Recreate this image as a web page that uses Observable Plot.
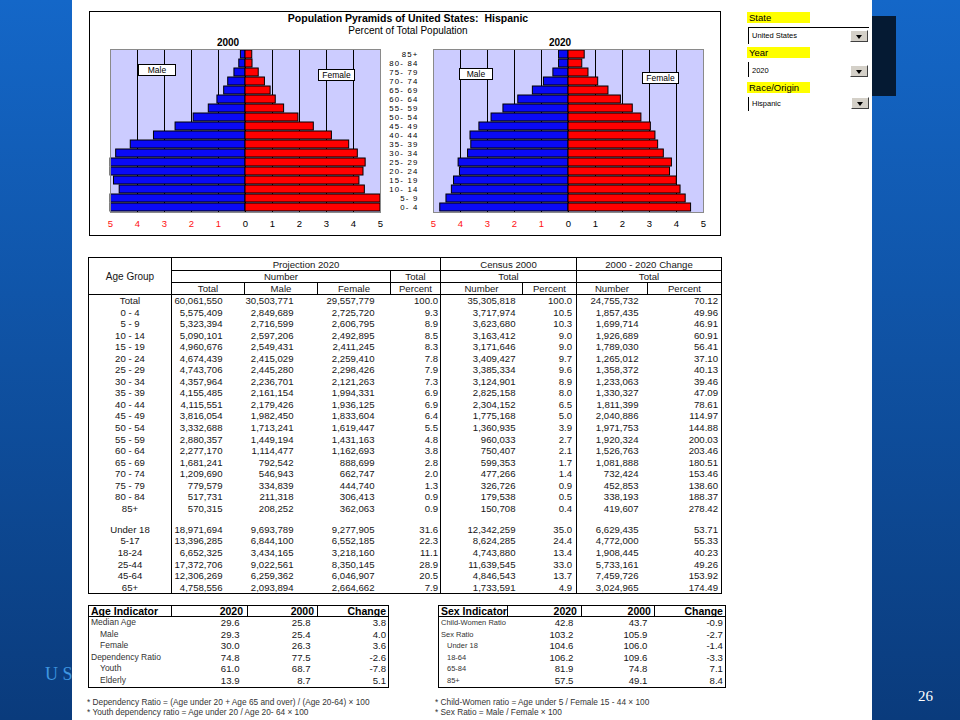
<!DOCTYPE html>
<html><head><meta charset="utf-8">
<script src="https://cdn.jsdelivr.net/npm/d3@7"></script>
<script src="https://cdn.jsdelivr.net/npm/@observablehq/plot@0.6"></script>
<style>
body{margin:0;width:960px;height:720px;overflow:hidden;font-family:"Liberation Sans",Arial,sans-serif;}
#slide{position:relative;width:960px;height:720px;background:linear-gradient(#1467c8,#0a3b7c);overflow:hidden;}
.abs{position:absolute;}
#page{left:72px;top:0;width:800px;height:720px;background:#fff;}
#chartbox{left:89px;top:11px;width:632px;height:225px;border:1px solid #000;box-sizing:border-box;}
.ttl{font-weight:bold;font-size:10.5px;color:#000;white-space:nowrap;transform:translate(-50%,-50%);}
.sub{font-size:10px;color:#000;white-space:nowrap;transform:translate(-50%,-50%);}
.lbl{background:#fff;border:1px solid #000;font-size:8.5px;box-sizing:border-box;text-align:center;color:#000;}
table{border-collapse:collapse;table-layout:fixed;color:#161616;}
#main{left:88px;top:257px;font-size:9.6px;}
#main td{padding:0;white-space:nowrap;overflow:hidden;vertical-align:middle;}
#main tr.h td{border:1px solid #000;text-align:center;height:11px;line-height:11px;}
#main tr.b td{height:11.55px;line-height:11.55px;text-align:right;}
#main tr.blank td{height:9.5px;}
#main td.c0{border-left:1px solid #000;border-right:1px solid #000;text-align:center !important;}
#main td.c4,#main td.c6,#main td.c8{border-right:1px solid #000;}
#main tr.last td{border-bottom:1px solid #000;}
.ind{font-size:9.6px;}
.ind td{padding:0;white-space:nowrap;overflow:hidden;vertical-align:middle;}
.ind tr.h td{border:1px solid #000;font-weight:bold;font-size:10.5px;height:10px;line-height:10px;text-align:right;color:#000;}
.ind tr.h td:first-child{text-align:left;padding-left:2px;}
.ind tr.b td{height:11.6px;line-height:11.6px;text-align:right;}
.ind tr.b td:first-child{text-align:left;border-left:1px solid #000;color:#333;}
.ind tr.b td:last-child{border-right:1px solid #000;}
.ind tr.last td{border-bottom:1px solid #000;}
.note{font-size:8.3px;color:#333;white-space:nowrap;}
.ylab{background:#ffff00;font-size:9.5px;line-height:11px;height:11px;width:63px;padding-left:2px;box-sizing:border-box;color:#000;}
.fld{font-size:7.5px;color:#000;white-space:nowrap;}
.btn{width:18px;height:12px;background:#d4d0c8;box-sizing:border-box;border:1px solid;border-color:#fff #404040 #404040 #fff;}
.btn:after{content:"";position:absolute;left:5px;top:4px;border-left:3.5px solid transparent;border-right:3.5px solid transparent;border-top:4px solid #000;}
</style></head>
<body>
<div id="slide">
  <div class="abs" style="left:0;top:660px;width:72px;height:30px;overflow:hidden;">
    <div class="abs" style="left:45px;top:4px;font-family:'Liberation Serif',serif;font-size:18px;color:#3f96e0;white-space:nowrap;">U S</div>
  </div>
  <div id="page" class="abs"></div>
  <div class="abs" style="left:872px;top:16px;width:24px;height:80px;background:#051a33;"></div>
  <div class="abs" style="left:918px;top:688px;font-family:'Liberation Serif',serif;font-size:15px;color:#fff;">26</div>
  <div id="chartbox" class="abs"></div>
  <div class="abs ttl" style="left:408px;top:18px;">Population Pyramids of United States:&nbsp; Hispanic</div>
  <div class="abs sub" style="left:408px;top:30px;">Percent of Total Population</div>
  <div class="abs ttl" style="left:228px;top:42px;font-size:10px;">2000</div>
  <div class="abs ttl" style="left:560px;top:42px;font-size:10px;">2020</div>
  <div id="p2000" class="abs" style="left:95px;top:40px;"></div>
  <div id="p2020" class="abs" style="left:383px;top:40px;"></div>
  <div class="abs lbl" style="left:138px;top:64px;width:38px;height:12px;line-height:10px;">Male</div>
  <div class="abs lbl" style="left:318px;top:69px;width:37px;height:12px;line-height:10px;">Female</div>
  <div class="abs lbl" style="left:459px;top:68px;width:34px;height:12px;line-height:10px;">Male</div>
  <div class="abs lbl" style="left:642px;top:72px;width:37px;height:12px;line-height:10px;">Female</div>

  <table id="main" class="abs"></table>
  <table id="ageTbl" class="abs ind" style="left:88px;top:605px;"></table>
  <table id="sexTbl" class="abs ind" style="left:438px;top:605px;"></table>

  <div class="abs note" style="left:87px;top:697px;">* Dependency Ratio = (Age under 20 + Age 65 and over) / (Age 20-64) × 100</div>
  <div class="abs note" style="left:87px;top:707px;">* Youth dependency ratio = Age under 20 / Age 20- 64 × 100</div>
  <div class="abs note" style="left:435px;top:697px;">* Child-Women ratio = Age under 5 / Female 15 - 44 × 100</div>
  <div class="abs note" style="left:435px;top:707px;">* Sex Ratio = Male / Female × 100</div>

  <div class="abs ylab" style="left:747px;top:12px;">State</div>
  <div class="abs" style="left:748px;top:27px;width:120px;height:16px;border-left:1px solid #000;border-top:1px solid #000;"></div>
  <div class="abs fld" style="left:752px;top:31px;">United States</div>
  <div class="abs btn" style="left:850px;top:30px;"></div>
  <div class="abs ylab" style="left:747px;top:47px;">Year</div>
  <div class="abs" style="left:748px;top:62px;width:1px;height:15px;background:#000;"></div>
  <div class="abs fld" style="left:752px;top:66px;">2020</div>
  <div class="abs btn" style="left:850px;top:65px;"></div>
  <div class="abs ylab" style="left:747px;top:82px;">Race/Origin</div>
  <div class="abs" style="left:748px;top:97px;width:1px;height:14px;background:#000;"></div>
  <div class="abs fld" style="left:752px;top:99px;">Hispanic</div>
  <div class="abs btn" style="left:851px;top:97px;"></div>
</div>
<script>
// ---- Pyramid data (percent of total population), youngest first ----
const ageGroups = ["0- 4","5- 9","10- 14","15- 19","20- 24","25- 29","30- 34","35- 39","40- 44","45- 49","50- 54","55- 59","60- 64","65- 69","70- 74","75- 79","80- 84","85+"];
const male2000   = [5.35,5.30,4.66,4.87,5.33,5.15,4.79,4.25,3.39,2.59,1.92,1.36,1.04,0.79,0.64,0.41,0.23,0.17];
const female2000 = [5.15,5.00,4.42,4.22,4.37,4.45,4.16,3.84,3.20,2.53,1.96,1.43,1.12,0.93,0.72,0.49,0.26,0.25];
const male2020   = [4.75,4.52,4.32,4.24,4.02,4.07,3.72,3.60,3.63,3.30,2.85,2.41,1.86,1.32,0.91,0.56,0.35,0.35];
const female2020 = [4.54,4.34,4.15,4.01,3.76,3.83,3.53,3.32,3.22,3.05,2.70,2.38,1.94,1.48,1.10,0.74,0.51,0.60];
const negTicks = [-5,-4,-3,-2,-1];
const posTicks = [0,1,2,3,4,5];
const gridTicks = [-4,-3,-2,-1,0,1,2,3,4];

// ---- Main table data ----
const rowLabels = ["Total","0 - 4","5 - 9","10 - 14","15 - 19","20 - 24","25 - 29","30 - 34","35 - 39","40 - 44","45 - 49","50 - 54","55 - 59","60 - 64","65 - 69","70 - 74","75 - 79","80 - 84","85+","Under 18","5-17","18-24","25-44","45-64","65+"];
const projTotal = ["60,061,550","5,575,409","5,323,394","5,090,101","4,960,676","4,674,439","4,743,706","4,357,964","4,155,485","4,115,551","3,816,054","3,332,688","2,880,357","2,277,170","1,681,241","1,209,690","779,579","517,731","570,315","18,971,694","13,396,285","6,652,325","17,372,706","12,306,269","4,758,556"];
const projMale = ["30,503,771","2,849,689","2,716,599","2,597,206","2,549,431","2,415,029","2,445,280","2,236,701","2,161,154","2,179,426","1,982,450","1,713,241","1,449,194","1,114,477","792,542","546,943","334,839","211,318","208,252","9,693,789","6,844,100","3,434,165","9,022,561","6,259,362","2,093,894"];
const projFemale = ["29,557,779","2,725,720","2,606,795","2,492,895","2,411,245","2,259,410","2,298,426","2,121,263","1,994,331","1,936,125","1,833,604","1,619,447","1,431,163","1,162,693","888,699","662,747","444,740","306,413","362,063","9,277,905","6,552,185","3,218,160","8,350,145","6,046,907","2,664,662"];
const projPct = ["100.0","9.3","8.9","8.5","8.3","7.8","7.9","7.3","6.9","6.9","6.4","5.5","4.8","3.8","2.8","2.0","1.3","0.9","0.9","31.6","22.3","11.1","28.9","20.5","7.9"];
const census2000 = ["35,305,818","3,717,974","3,623,680","3,163,412","3,171,646","3,409,427","3,385,334","3,124,901","2,825,158","2,304,152","1,775,168","1,360,935","960,033","750,407","599,353","477,266","326,726","179,538","150,708","12,342,259","8,624,285","4,743,880","11,639,545","4,846,543","1,733,591"];
const censusPct = ["100.0","10.5","10.3","9.0","9.0","9.7","9.6","8.9","8.0","6.5","5.0","3.9","2.7","2.1","1.7","1.4","0.9","0.5","0.4","35.0","24.4","13.4","33.0","13.7","4.9"];
const changeNum = ["24,755,732","1,857,435","1,699,714","1,926,689","1,789,030","1,265,012","1,358,372","1,233,063","1,330,327","1,811,399","2,040,886","1,971,753","1,920,324","1,526,763","1,081,888","732,424","452,853","338,193","419,607","6,629,435","4,772,000","1,908,445","5,733,161","7,459,726","3,024,965"];
const changePct = ["70.12","49.96","46.91","60.91","56.41","37.10","40.13","39.46","47.09","78.61","114.97","144.88","200.03","203.46","180.51","153.46","138.60","188.37","278.42","53.71","55.33","40.23","49.26","153.92","174.49"];

// ---- Indicator tables ----
const ageIndLabels = ["Median Age","Male","Female","Dependency Ratio","Youth","Elderly"];
const ageIndSub = [false,true,true,false,true,true];
const ageInd2020 = ["29.6","29.3","30.0","74.8","61.0","13.9"];
const ageInd2000 = ["25.8","25.4","26.3","77.5","68.7","8.7"];
const ageIndChange = ["3.8","4.0","3.6","-2.6","-7.8","5.1"];
const sexIndLabels = ["Child-Women Ratio","Sex Ratio","Under 18","18-64","65-84","85+"];
const sexIndSub = [false,false,true,true,true,true];
const sexInd2020 = ["42.8","103.2","104.6","106.2","81.9","57.5"];
const sexInd2000 = ["43.7","105.9","106.0","109.6","74.8","49.1"];
const sexIndChange = ["-0.9","-2.7","-1.4","-3.3","7.1","8.4"];

function pyramid(male, female, showY) {
  const rows = ageGroups.map((a, i) => ({age: a, male: -male[i], female: female[i]}));
  const marks = [
    Plot.frame({fill: "#ccccff", stroke: null}),
    Plot.ruleX(gridTicks, {stroke: "#000", strokeWidth: 1}),
    Plot.barX(rows, {y: "age", x1: 0, x2: "male", fill: "#0a0af5", stroke: "#000", strokeWidth: 1}),
    Plot.barX(rows, {y: "age", x1: 0, x2: "female", fill: "#ff0000", stroke: "#000", strokeWidth: 1}),
    Plot.frame({stroke: "#8a8a8a"}),
    Plot.axisX(negTicks, {tickSize: 0, tickPadding: 8, color: "#ff1010", tickFormat: d => Math.abs(d), label: null}),
    Plot.axisX(posTicks, {tickSize: 0, tickPadding: 8, color: "#000", tickFormat: d => String(d), label: null})
  ];
  if (showY) marks.push(Plot.axisY({tickSize: 0, tickPadding: 15, color: "#000", label: null, fontSize: 7.8}));
  const svg = Plot.plot({
    width: showY ? 335 : 300,
    height: 192,
    marginLeft: showY ? 50 : 15, marginRight: 15, marginTop: 9, marginBottom: 20,
    style: {fontFamily: "'Liberation Sans', Arial, sans-serif", fontSize: "9.5px", background: "transparent", overflow: "visible", color: "#000"},
    x: {domain: [-5, 5], clamp: true, label: null},
    y: {domain: ageGroups.slice().reverse(), paddingInner: 0.12, paddingOuter: 0.06, label: null, axis: showY ? undefined : null},
    marks
  });
  if (showY) d3.select(svg).selectAll('g[aria-label="y-axis tick label"] text').style("letter-spacing", "1.2px").style("font-size", "7.8px");
  return svg;
}
document.getElementById("p2000").append(pyramid(male2000, female2000, false));
document.getElementById("p2020").append(pyramid(male2020, female2020, true));

// ---- Build main table ----
const colW = [83,73,73,73,50,82,54,71,74];
const padR = [0,22,24,16,2,7,4,9,3];
const cols = [projTotal, projMale, projFemale, projPct, census2000, censusPct, changeNum, changePct];
let h = "<colgroup>" + colW.map(w => `<col style="width:${w}px">`).join("") + "</colgroup>";
h += `<tr class="h"><td rowspan="3" style="font-size:10px;border-bottom:1px solid #000">Age Group</td><td colspan="4" style="height:12px">Projection 2020</td><td colspan="2">Census 2000</td><td colspan="2">2000 - 2020 Change</td></tr>`;
h += `<tr class="h"><td colspan="3">Number</td><td>Total</td><td colspan="2">Total</td><td colspan="2">Total</td></tr>`;
h += `<tr class="h"><td>Total</td><td>Male</td><td>Female</td><td>Percent</td><td>Number</td><td>Percent</td><td>Number</td><td>Percent</td></tr>`;
rowLabels.forEach((lab, i) => {
  if (i === 19) h += `<tr class="b blank"><td class="c0"></td>` + cols.map((c, j) => `<td class="c${j+1}"></td>`).join("") + "</tr>";
  const last = i === rowLabels.length - 1 ? " last" : "";
  h += `<tr class="b${last}"><td class="c0">${lab}</td>` + cols.map((c, j) => `<td class="c${j+1}" style="padding-right:${padR[j+1]}px">${c[i]}</td>`).join("") + "</tr>";
});
document.getElementById("main").innerHTML = h;

function indTable(id, title, widths, pads, labels, sub, subIndent, labelSize, a, b, c) {
  let s = "<colgroup>" + widths.map(w => `<col style="width:${w}px">`).join("") + "</colgroup>";
  s += `<tr class="h"><td>${title}</td><td style="padding-right:${pads[0]}px">2020</td><td style="padding-right:${pads[1]}px">2000</td><td style="padding-right:${pads[2]}px">Change</td></tr>`;
  labels.forEach((lab, i) => {
    const last = i === labels.length - 1 ? " last" : "";
    s += `<tr class="b${last}"><td style="padding-left:${sub[i] ? subIndent : 2}px;font-size:${labelSize}px">${lab}</td>` +
      `<td style="padding-right:${pads[0] + 4}px">${a[i]}</td><td style="padding-right:${pads[1] + 4}px">${b[i]}</td><td style="padding-right:${pads[2]}px">${c[i]}</td></tr>`;
  });
  document.getElementById(id).innerHTML = s;
}
indTable("ageTbl", "Age Indicator", [83,76,70,71], [4,3,2], ageIndLabels, ageIndSub, 11, 8.5, ageInd2020, ageInd2000, ageIndChange);
indTable("sexTbl", "Sex Indicator", [64,74,73,71], [4,3,2], sexIndLabels, sexIndSub, 8, 7.5, sexInd2020, sexInd2000, sexIndChange);
</script>
</body></html>
